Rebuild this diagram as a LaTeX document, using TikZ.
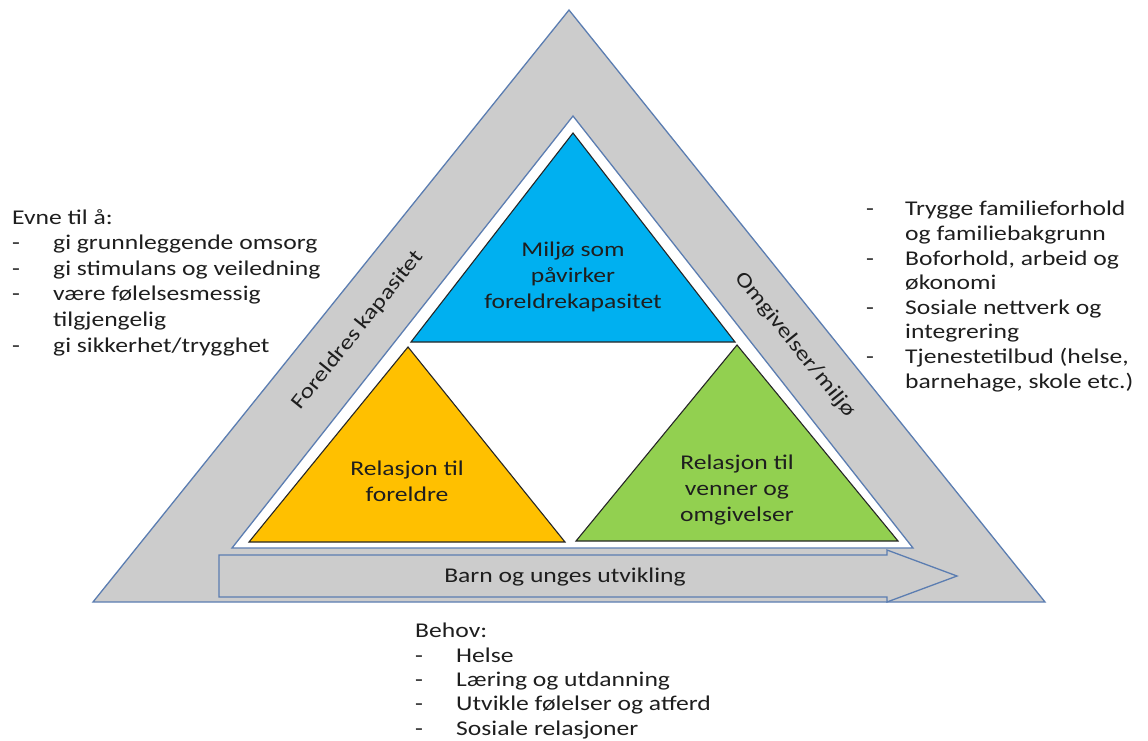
\documentclass[tikz,border=0pt]{standalone}
\usepackage{fontspec}
\setmainfont{Carlito}[FakeStretch=1.22]
\usepackage{tikz}
\usetikzlibrary{positioning}
\definecolor{bandgray}{RGB}{204,204,204}
\definecolor{edgeblue}{RGB}{91,125,177}
\definecolor{miljoblue}{RGB}{0,176,240}
\definecolor{foreldreorange}{RGB}{255,192,0}
\definecolor{vennergreen}{RGB}{146,208,80}
\definecolor{inktext}{RGB}{30,30,30}

\newcommand{\punkt}[2][41pt]{\makebox[#1][l]{-}#2}

\begin{document}
\begin{tikzpicture}[
    x=1pt, y=-1pt,
    band/.style={draw=edgeblue, line width=1.3pt, fill=#1},
    tri/.style={draw=black!85, line width=1.1pt, fill=#1},
    lbl/.style={text=inktext, align=center, inner sep=0pt,
                font=\fontsize{21}{26.2}\selectfont},
    side/.style={text=inktext, inner sep=0pt, font=\fontsize{21}{25}\selectfont},
    list/.style={text=inktext, align=left, inner sep=0pt, anchor=base west,
                 font=\fontsize{21}{#1}\selectfont}
]
    \useasboundingbox (0,0) rectangle (1148,740);

    % outer band and inner field
    \draw[band=bandgray] (569,10) -- (1045,602) -- (93,602) -- cycle;
    \draw[band=white] (573,116) -- (913,548) -- (232,548) -- cycle;

    % three inner triangles
    \draw[tri=miljoblue] (573,133) -- (735,342) -- (411,342) -- cycle;
    \draw[tri=foreldreorange] (408,347) -- (565,542) -- (249,542) -- cycle;
    \draw[tri=vennergreen] (737,345) -- (898,541) -- (576,541) -- cycle;

    % development arrow
    \draw[band=bandgray] (219,555) -- (887,555) -- (887,550) -- (957,576)
        -- (887,602) -- (887,597) -- (219,597) -- cycle;

    \node[lbl] (miljo) at (573,277) {Miljø som\\påvirker\\foreldrekapasitet};
    \node[lbl] (foreldre) at (407,481) {Relasjon til\\foreldre};
    \node[lbl] (venner) at (737,490) {Relasjon til\\venner og\\omgivelser};
    \node[lbl] (utvikling) at (565,577) {Barn og unges utvikling};

    % side labels
    \node[side, rotate=51.2] (kapasitet) at (358,330) {Foreldres kapasitet};
    \node[side, rotate=-51.2] (omgivelser) at (795,345) {Omgivelser/miljø};

    % lists (anchored on the last line)
    \node[list=25.6] (evne) at (12,352) {Evne til å:\\
        \punkt{gi grunnleggende omsorg}\\
        \punkt{gi stimulans og veiledning}\\
        \punkt{være følelsesmessig}\\
        \hspace*{41pt}tilgjengelig\\
        \punkt{gi sikkerhet/trygghet}};
    \node[list=24.6] (miljoliste) at (866,388) {\punkt[39pt]{Trygge familieforhold}\\
        \hspace*{39pt}og familiebakgrunn\\
        \punkt[39pt]{Boforhold, arbeid og}\\
        \hspace*{39pt}økonomi\\
        \punkt[39pt]{Sosiale nettverk og}\\
        \hspace*{39pt}integrering\\
        \punkt[39pt]{Tjenestetilbud (helse,}\\
        \hspace*{39pt}barnehage, skole etc.)};
    \node[list=24.3] (behov) at (415,735) {Behov:\\
        \punkt[41pt]{Helse}\\
        \punkt[41pt]{Læring og utdanning}\\
        \punkt[41pt]{Utvikle følelser og atferd}\\
        \punkt[41pt]{Sosiale relasjoner}};
\end{tikzpicture}
\end{document}
